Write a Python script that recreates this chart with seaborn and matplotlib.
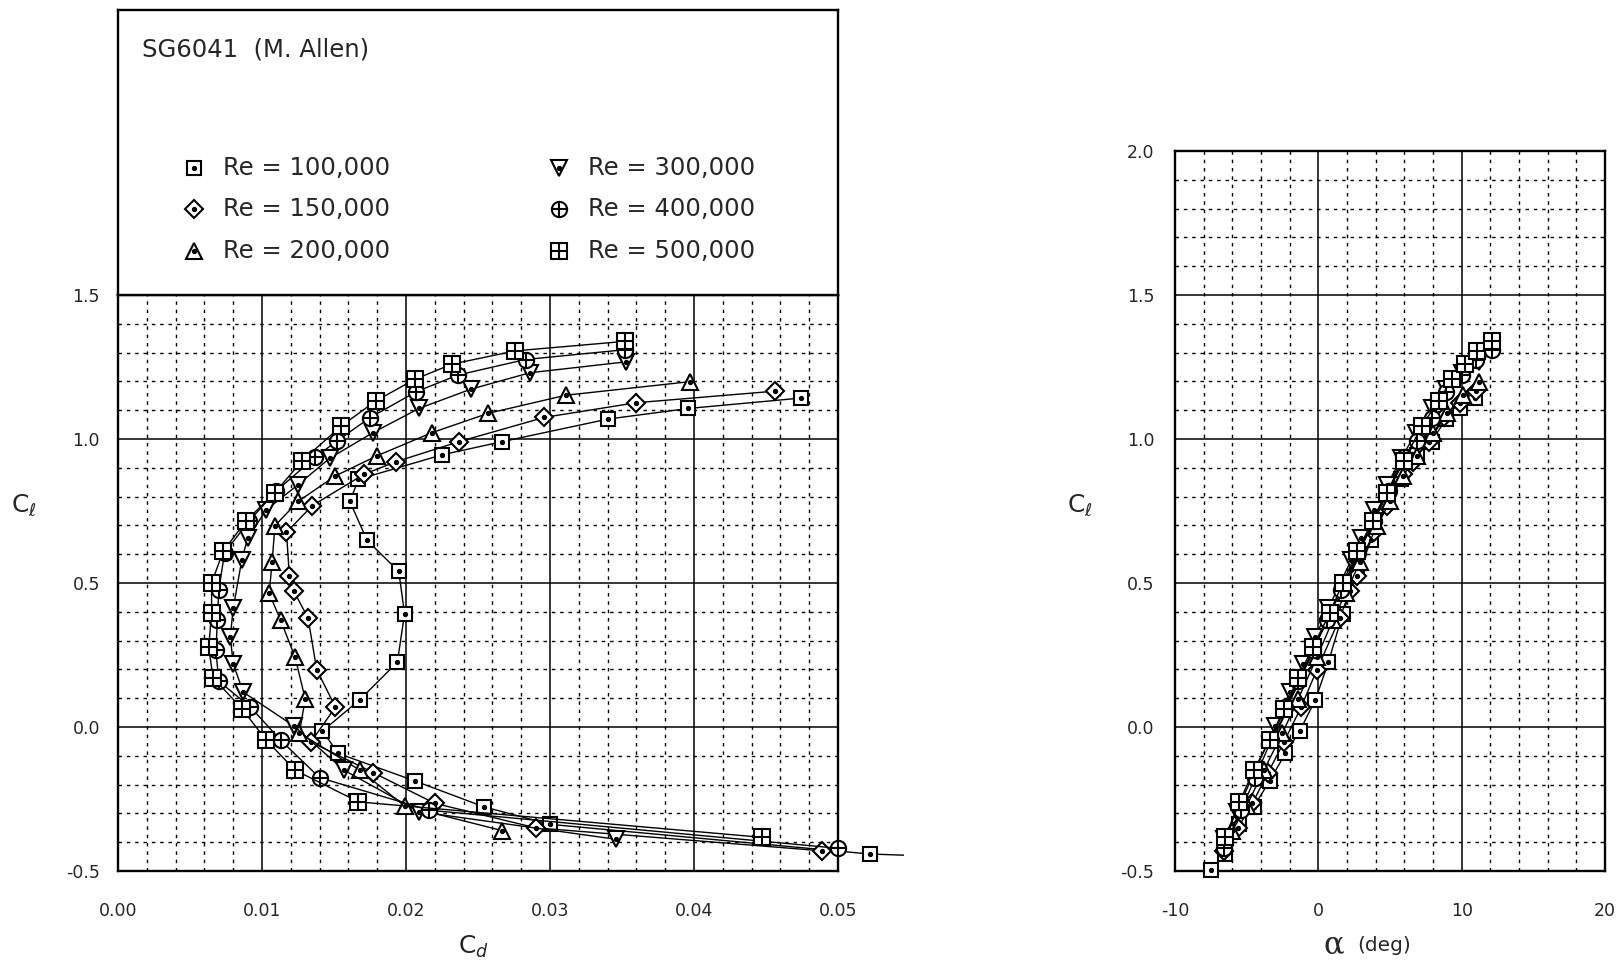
import numpy as np
import pandas as pd
import seaborn as sns
import matplotlib
matplotlib.use('Agg')
import matplotlib.pyplot as plt
from matplotlib.patches import Rectangle
from matplotlib.ticker import MultipleLocator, FormatStrFormatter

# Re = 100,000 (square with dot)
alpha_100k = [-7.5, -6.5, -5.5, -4.5, -3.4, -2.3, -1.3, -0.2, 0.7, 1.7, 2.7, 3.7, 4.8, 5.8, 6.9, 7.9, 8.9, 9.9, 10.9]
cl_100k = [-0.497, -0.441, -0.338, -0.277, -0.187, -0.092, -0.014, 0.095, 0.225, 0.393, 0.540, 0.648, 0.783, 0.860, 0.945, 0.991, 1.069, 1.106, 1.142]
cd_100k = [0.0850, 0.0522, 0.0300, 0.0254, 0.0206, 0.0153, 0.0142, 0.0168, 0.0194, 0.0199, 0.0195, 0.0173, 0.0161, 0.0167, 0.0225, 0.0267, 0.0340, 0.0396, 0.0474]

# Re = 150,000 (diamond with dot)
alpha_150k = [-6.6, -5.6, -4.6, -3.5, -2.4, -1.2, -0.1, 1.5, 2.2, 2.7, 3.9, 4.8, 5.9, 6.6, 7.7, 8.8, 9.9, 11.0]
cl_150k = [-0.430, -0.350, -0.265, -0.158, -0.052, 0.069, 0.199, 0.378, 0.473, 0.525, 0.676, 0.769, 0.878, 0.921, 0.991, 1.075, 1.126, 1.166]
cd_150k = [0.0489, 0.0290, 0.0220, 0.0177, 0.0134, 0.0151, 0.0138, 0.0132, 0.0122, 0.0119, 0.0117, 0.0135, 0.0171, 0.0193, 0.0237, 0.0296, 0.0360, 0.0456]

# Re = 200,000 (triangle with dot)
alpha_200k = [-6.0, -5.0, -3.8, -2.5, -1.4, -0.1, 1.0, 1.9, 2.9, 4.1, 5.0, 5.9, 6.9, 8.0, 9.0, 10.1, 11.2]
cl_200k = [-0.360, -0.274, -0.150, -0.021, 0.098, 0.242, 0.370, 0.464, 0.572, 0.699, 0.783, 0.872, 0.942, 1.022, 1.089, 1.152, 1.199]
cd_200k = [0.0267, 0.0199, 0.0168, 0.0126, 0.0130, 0.0123, 0.0113, 0.0105, 0.0107, 0.0109, 0.0125, 0.0151, 0.0180, 0.0218, 0.0257, 0.0311, 0.0397]

# Re = 300,000 (inverted triangle with dot)
alpha_300k = [-6.6, -5.7, -4.4, -3.0, -2.0, -1.1, -0.2, 0.7, 2.3, 3.0, 3.9, 4.8, 5.8, 6.8, 7.9, 8.9, 10.0, 11.2]
cl_300k = [-0.390, -0.294, -0.150, 0.004, 0.121, 0.219, 0.314, 0.412, 0.581, 0.656, 0.754, 0.841, 0.933, 1.022, 1.106, 1.173, 1.230, 1.268]
cd_300k = [0.0346, 0.0209, 0.0157, 0.0122, 0.0087, 0.0080, 0.0078, 0.0080, 0.0086, 0.0090, 0.0103, 0.0125, 0.0147, 0.0177, 0.0209, 0.0245, 0.0286, 0.0353]

# Re = 400,000 (circle with plus)
alpha_400k = [-6.6, -5.4, -4.4, -3.3, -2.3, -1.4, -0.4, 0.6, 1.6, 2.8, 3.9, 4.9, 6.0, 6.9, 7.9, 8.9, 10.0, 11.0, 12.1]
cl_400k = [-0.421, -0.289, -0.176, -0.046, 0.069, 0.159, 0.266, 0.370, 0.476, 0.605, 0.715, 0.820, 0.937, 0.993, 1.074, 1.164, 1.222, 1.276, 1.310]
cd_400k = [0.0500, 0.0216, 0.0140, 0.0113, 0.0092, 0.0070, 0.0068, 0.0069, 0.0070, 0.0074, 0.0091, 0.0110, 0.0137, 0.0152, 0.0175, 0.0207, 0.0236, 0.0283, 0.0352]

# Re = 500,000 (square with plus)
alpha_500k = [-6.5, -5.5, -4.5, -3.4, -2.4, -1.4, -0.4, 0.8, 1.7, 2.7, 3.8, 4.8, 6.0, 7.2, 8.4, 9.3, 10.2, 11.1, 12.1]
cl_500k = [-0.383, -0.260, -0.150, -0.046, 0.064, 0.171, 0.277, 0.395, 0.500, 0.610, 0.716, 0.814, 0.925, 1.045, 1.132, 1.207, 1.260, 1.306, 1.339]
cd_500k = [0.0447, 0.0167, 0.0123, 0.0103, 0.0086, 0.0066, 0.0063, 0.0065, 0.0065, 0.0073, 0.0089, 0.0109, 0.0128, 0.0155, 0.0179, 0.0206, 0.0232, 0.0276, 0.0352]

labels = ['Re = 100,000', 'Re = 150,000', 'Re = 200,000',
          'Re = 300,000', 'Re = 400,000', 'Re = 500,000']

series = [
    (labels[0], cd_100k, cl_100k, alpha_100k, 's', 10.5, 'dot'),
    (labels[1], cd_150k, cl_150k, alpha_150k, 'D', 9, 'dot'),
    (labels[2], cd_200k, cl_200k, alpha_200k, '^', 12, 'dot'),
    (labels[3], cd_300k, cl_300k, alpha_300k, 'v', 12, 'dot'),
    (labels[4], cd_400k, cl_400k, alpha_400k, 'o', 11, 'plus'),
    (labels[5], cd_500k, cl_500k, alpha_500k, 's', 11, 'plus'),
]

sns.set_style('white')
plt.rcParams['font.family'] = ['DejaVu Sans']
plt.rcParams['axes.unicode_minus'] = False
plt.rcParams['mathtext.fontset'] = 'dejavusans'

W, H = 1624, 975
fig = plt.figure(figsize=(W / 100, H / 100), dpi=100)
ax = fig.add_axes([118 / W, 104 / H, 720 / W, 576 / H])
ax_top = fig.add_axes([118 / W, 680 / H, 720 / W, 285 / H])
ax2 = fig.add_axes([1175 / W, 104 / H, 430 / W, 720 / H])


def draw_marker(a, x, y, mk, ms, inner, z):
    if inner == 'dot':
        a.plot(x, y, ls='none', marker='o', ms=2.8, color='black', zorder=z)
    else:
        a.plot(x, y, ls='none', marker='+', ms=ms, mew=1.5, color='black', zorder=z)


for z, (label, cd, cl, alpha, mk, ms, inner) in enumerate(series):
    for a, x in ((ax, cd), (ax2, alpha)):
        sns.lineplot(x=x, y=cl, sort=False, estimator=None, ax=a, color='black',
                     lw=1.0, marker=mk, ms=ms, mfc='white', mec='black', mew=1.5,
                     zorder=3 + z)
        draw_marker(a, x, cl, mk, ms, inner, 3 + z)

# let the curves run a little past the right frame like the original
for line in ax.lines:
    line.set_clip_path(Rectangle((-0.03, -0.04), 1.122, 1.08, transform=ax.transAxes))
for line in ax2.lines:
    line.set_clip_on(False)


def style_axes(a, xmaj, xmin, ymaj, ymin, xfmt, ypad):
    a.xaxis.set_major_locator(MultipleLocator(xmaj))
    a.xaxis.set_minor_locator(MultipleLocator(xmin))
    a.yaxis.set_major_locator(MultipleLocator(ymaj))
    a.yaxis.set_minor_locator(MultipleLocator(ymin))
    a.xaxis.set_major_formatter(FormatStrFormatter(xfmt))
    a.yaxis.set_major_formatter(FormatStrFormatter('%.1f'))
    a.grid(which='major', color='black', lw=1.1)
    a.grid(which='minor', color='black', lw=1.0, ls=(0, (2.5, 3.5)))
    a.set_axisbelow(True)
    a.tick_params(which='both', length=0)
    a.tick_params(axis='x', pad=22, labelsize=12.5)
    a.tick_params(axis='y', pad=ypad, labelsize=12.5)
    for s in a.spines.values():
        s.set_visible(True)
        s.set_linewidth(1.7)
        s.set_color('black')
    a.set_xlabel('')
    a.set_ylabel('')


ax.set_xlim(0, 0.05)
ax.set_ylim(-0.5, 1.5)
style_axes(ax, 0.01, 0.002, 0.5, 0.1, '%.2f', 13)

ax2.set_xlim(-10, 20)
ax2.set_ylim(-0.5, 2.0)
style_axes(ax2, 10, 2, 0.5, 0.1, '%d', 15)

# axis labels
ax.text(-0.1306, 0.623, r'C$_{\ell}$', transform=ax.transAxes, fontsize=18,
        ha='center', va='baseline')
ax.text(0.493, -0.144, r'C$_d$', transform=ax.transAxes, fontsize=18,
        ha='center', va='baseline')
ax2.text(-0.221, 0.4986, r'C$_{\ell}$', transform=ax2.transAxes, fontsize=18,
         ha='center', va='baseline')
ax2.text(0.370, -0.103, 'α', transform=ax2.transAxes, fontsize=22,
         family='DejaVu Serif', ha='center', va='center')
ax2.text(0.423, -0.103, '(deg)', transform=ax2.transAxes, fontsize=14.5,
         ha='left', va='center')

# legend box above the polar
ax_top.set_xlim(0, 1)
ax_top.set_ylim(0, 1)
ax_top.set_xticks([])
ax_top.set_yticks([])
for s in ax_top.spines.values():
    s.set_visible(True)
    s.set_linewidth(1.7)
    s.set_color('black')
ax_top.text(0.033, 0.863, 'SG6041  (M. Allen)', fontsize=17.5, ha='left', va='center')

leg_pos = [(0.1056, 0.4456), (0.1056, 0.3018), (0.1056, 0.1544),
           (0.6125, 0.4456), (0.6125, 0.3018), (0.6125, 0.1544)]
for (label, cd, cl, alpha, mk, ms, inner), (mx, my) in zip(series, leg_pos):
    ax_top.plot([mx], [my], ls='none', marker=mk, ms=ms, mfc='white',
                mec='black', mew=1.5)
    draw_marker(ax_top, [mx], [my], mk, ms, inner, 3)
    ax_top.text(mx + 0.04, my, label, fontsize=17.5, ha='left', va='center')

fig.savefig('out.png', dpi=100)
